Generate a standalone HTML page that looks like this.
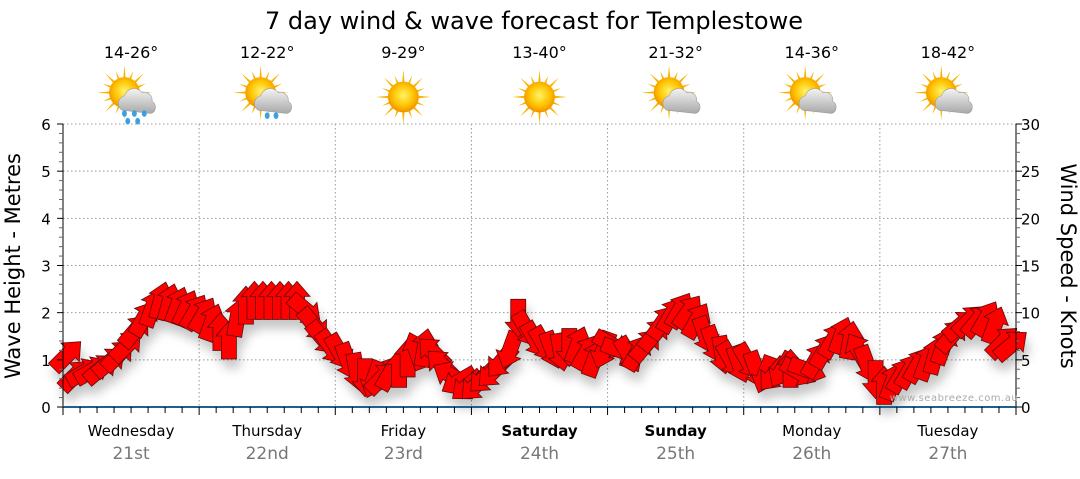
<!DOCTYPE html>
<html><head><meta charset="utf-8">
<style>
html,body{margin:0;padding:0;background:#fff;}
body{width:1080px;height:475px;overflow:hidden;font-family:"DejaVu Sans",sans-serif;}
</style></head>
<body>
<svg id="chart" width="1080" height="475" xmlns="http://www.w3.org/2000/svg" font-family="DejaVu Sans, Liberation Sans, sans-serif">
<defs>
<filter id="sh" x="-20%" y="-20%" width="140%" height="160%">
<feDropShadow dx="3" dy="9" stdDeviation="5" flood-color="#000" flood-opacity="0.22"/>
</filter>
<radialGradient id="sunG" cx="50%" cy="45%" r="55%"><stop offset="0" stop-color="#fff36a"/><stop offset="0.6" stop-color="#ffc400"/><stop offset="1" stop-color="#f09000"/></radialGradient>
<linearGradient id="cloudG" x1="0" y1="0" x2="0" y2="1"><stop offset="0" stop-color="#f4f4f4"/><stop offset="1" stop-color="#a8a8a8"/></linearGradient>
</defs>
<text x="534" y="29" font-size="24" text-anchor="middle" fill="#000">7 day wind &amp; wave forecast for Templestowe</text>
<g id="grid"></g>
<g id="icons"></g>
<g id="arrows" filter="url(#sh)"></g>
<g id="axes"></g>
<text x="954" y="401" font-size="10" text-anchor="middle" fill="#aaa" letter-spacing="0.5">www.seabreeze.com.au</text>
<text transform="translate(20,266) rotate(-90)" font-size="21" text-anchor="middle" fill="#000">Wave Height - Metres</text>
<text transform="translate(1061,266) rotate(90)" font-size="21" text-anchor="middle" fill="#000">Wind Speed - Knots</text>
</svg>
<script>
const days=["Wednesday","Thursday","Friday","Saturday","Sunday","Monday","Tuesday"];
const dates=["21st","22nd","23rd","24th","25th","26th","27th"];
const bold=[false,false,false,true,true,false,false];
const temps=["14-26°","12-22°","9-29°","13-40°","21-32°","14-36°","18-42°"];
const iconTypes=["rain","rainlight","sun","sun","cloud","cloud","cloud"];
const waveTicks=[0,1,2,3,4,5,6];
const windTicks=[0,5,10,15,20,25,30];
const windKnots=[
5.5,3.4,3.7,3.9,4.1,4.8,5.5,6.5,8.1,9.4,10.5,11.3,11.1,10.8,10.5,10.1,
9.8,9.0,8.0,7.1,9.5,10.8,11.3,11.3,11.3,11.3,11.3,11.3,10.3,8.7,7.3,6.3,
5.8,4.8,3.7,3.1,2.9,3.1,3.7,4.1,5.2,6.0,6.3,5.8,4.5,3.4,2.7,2.2,
2.3,3.1,3.7,4.8,6.0,9.4,8.2,7.1,6.6,6.0,5.8,6.3,6.6,5.8,5.2,6.0,
6.6,6.0,5.5,5.8,6.6,7.7,9.0,9.8,10.3,10.1,9.2,7.6,6.6,5.5,5.0,4.5,
4.8,3.9,3.4,3.4,3.9,4.1,3.7,3.9,5.0,6.0,7.1,7.6,7.1,6.0,4.5,2.9,
2.3,2.7,3.4,3.9,4.5,4.8,5.5,6.5,7.6,8.7,9.2,9.2,9.4,8.7,6.9,6.6];
const windDir=[
45,45,60,60,50,50,45,45,40,30,20,15,15,20,25,30,
30,20,0,0,10,0,0,0,0,0,0,0,130,140,140,145,
150,160,170,180,200,45,30,0,0,340,10,315,315,300,240,230,
225,225,225,220,200,180,150,150,150,160,170,180,20,30,20,200,
120,110,150,30,40,40,35,30,30,35,30,160,160,170,150,160,
150,160,200,220,210,0,120,110,30,30,30,20,10,330,160,180,
0,20,30,30,30,20,15,20,40,50,45,40,30,20,45,50];

const NS="http://www.w3.org/2000/svg";
const X0=63,X1=1016,Y0=407,Y1=124;
const dayW=(X1-X0)/7;
const yWave=v=>Y0-(v/6)*(Y0-Y1);
const yWind=v=>Y0-(v/30)*(Y0-Y1);
const xSlot=i=>X0+(i+0.5)*(X1-X0)/windKnots.length;
function mk(tag,attrs,parent){const e=document.createElementNS(NS,tag);for(const k in attrs)e.setAttribute(k,attrs[k]);parent.appendChild(e);return e;}
const grid=document.getElementById('grid'),axes=document.getElementById('axes'),icons=document.getElementById('icons'),arrows=document.getElementById('arrows');

waveTicks.forEach(v=>{if(v===0)return;
 const l=mk('line',{x1:X0,x2:X1,y1:yWave(v),y2:yWave(v),stroke:'#999','stroke-dasharray':'1.5,2.5','stroke-width':1},grid);
 
 
});
for(let d=1;d<7;d++){
 const l=mk('line',{x1:X0+d*dayW,x2:X0+d*dayW,y1:Y1,y2:Y0,stroke:'#999','stroke-dasharray':'1.5,2.5','stroke-width':1},grid);
 
 
}
mk('line',{x1:X0,x2:X0,y1:Y1,y2:Y0,stroke:'#000','stroke-width':1},axes);
mk('line',{x1:X1,x2:X1,y1:Y1,y2:Y0,stroke:'#000','stroke-width':1},axes);
waveTicks.forEach(v=>{
 const t=mk('text',{x:46,y:yWave(v)+6,'font-size':15,'text-anchor':'middle',fill:'#000'},axes);t.textContent=v;
 
 
 mk('line',{x1:X0-6,x2:X0,y1:yWave(v),y2:yWave(v),stroke:'#000'},axes);
});
for(let k=0;k<30;k++){if(k%5)mk('line',{x1:X0-4,x2:X0,y1:yWave(k/5),y2:yWave(k/5),stroke:'#666'},axes);}
windTicks.forEach(v=>{
 const t=mk('text',{x:1021,y:yWind(v)+6,'font-size':15,'text-anchor':'start',fill:'#000'},axes);t.textContent=v;
 
 
 mk('line',{x1:X1,x2:X1+6,y1:yWind(v),y2:yWind(v),stroke:'#000'},axes);
});
for(let k=0;k<30;k++){if(k%5)mk('line',{x1:X1,x2:X1+4,y1:yWind(k),y2:yWind(k),stroke:'#666'},axes);}
mk('line',{x1:X0,x2:X1,y1:Y0,y2:Y0,stroke:'#1f5f8f','stroke-width':2},axes);
for(let i=0;i<=56;i++){const x=X0+i*dayW/8;const big=i%8===0;
 mk('line',{x1:x,x2:x,y1:Y0,y2:Y0+(big?8:6),stroke:'#000'},axes);}
days.forEach((d,i)=>{
 const cx=X0+(i+0.5)*dayW;
 const t=mk('text',{x:cx,y:436,'font-size':15,'text-anchor':'middle',fill:'#000','font-weight':bold[i]?'bold':'normal'},axes);t.textContent=d;
 
 
 const t2=mk('text',{x:cx,y:459,'font-size':17,'text-anchor':'middle',fill:'#777'},axes);t2.textContent=dates[i];
 
 
 const t3=mk('text',{x:cx,y:58,'font-size':16,'text-anchor':'middle',fill:'#000'},icons);t3.textContent=temps[i];
 
 
 const g=mk('g',{transform:`translate(${cx},97) scale(1.1)`},icons);
 
 
 const type=iconTypes[i];
 const sx=type==='sun'?0:-6, sy=type==='sun'?0:-4;
 for(let r=0;r<16;r++){const a=r*Math.PI/8;const L=(r%2?21:25);
  mk('polygon',{points:`${sx+Math.cos(a-0.12)*11},${sy+Math.sin(a-0.12)*11} ${sx+Math.cos(a)*L},${sy+Math.sin(a)*L} ${sx+Math.cos(a+0.12)*11},${sy+Math.sin(a+0.12)*11}`,fill:'#f7b500'},g);}
 mk('circle',{cx:sx,cy:sy,r:14,fill:'url(#sunG)'},g);
 if(type!=='sun'){
  mk('path',{d:'M-8,12 a7,7 0 0 1 2,-13 a9,9 0 0 1 16,-3 a7,7 0 0 1 9,8 a6,6 0 0 1 -1,11 z',fill:'url(#cloudG)',stroke:'#999','stroke-width':0.5},g);
  if(type==='rain'){[[-6,15],[3,15],[12,15],[-3,22],[6,22]].forEach(p=>mk('ellipse',{cx:p[0],cy:p[1],rx:2.2,ry:3,fill:'#3aa0e0'},g));}
  if(type==='rainlight'){[[0,17],[8,17]].forEach(p=>mk('ellipse',{cx:p[0],cy:p[1],rx:2.2,ry:3,fill:'#3aa0e0'},g));}
 }
});
const L=38,SW=7.5,HW=13,HL=15;
const arrowPts=`0,${-L/2} ${HW},${-L/2+HL} ${SW},${-L/2+HL} ${SW},${L/2} ${-SW},${L/2} ${-SW},${-L/2+HL} ${-HW},${-L/2+HL}`;
windKnots.forEach((k,i)=>{
 const p=mk('polygon',{points:arrowPts,fill:'#ff0000',stroke:'#5a1010','stroke-width':0.8,'stroke-linejoin':'miter',transform:`translate(${xSlot(i)},${yWind(k)}) rotate(${windDir[i]})`},arrows);
 
 
});
</script>
</body></html>
